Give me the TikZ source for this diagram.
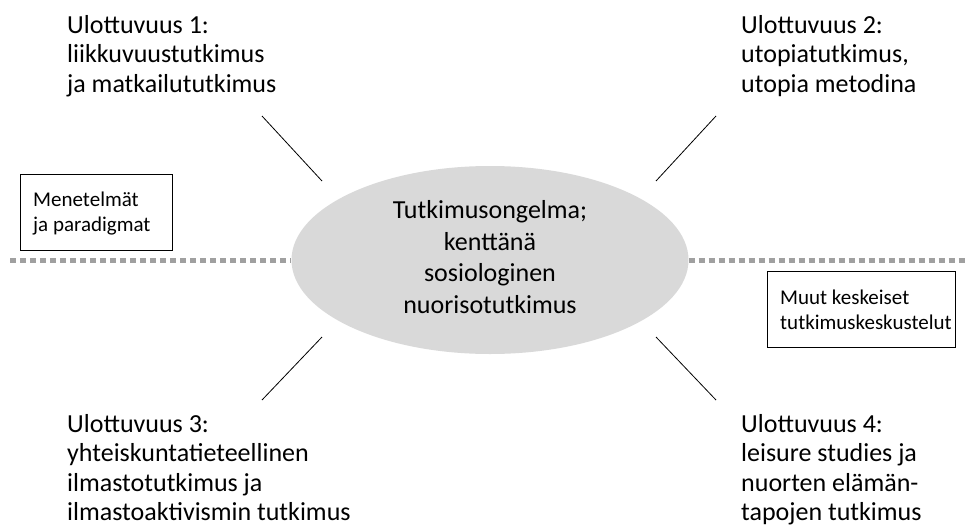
\documentclass[tikz,border=0pt]{standalone}
\usepackage{fontspec}
\setmainfont{Carlito}
\usetikzlibrary{shapes.geometric}
\definecolor{ellfill}{RGB}{217,217,217}
\definecolor{dotgray}{RGB}{160,160,160}
\tikzset{
  lbl/.style={anchor=base west, align=left, inner sep=0pt, font=\fontsize{26}{29.5}\selectfont},
  conn/.style={line width=0.8pt, black},
  sidebox/.style={draw, line width=0.8pt, anchor=north west, inner sep=0pt},
  boxtxt/.style={anchor=base west, align=left, inner sep=0pt, font=\fontsize{21}{25}\selectfont},
  sep/.style={draw=dotgray, line width=5pt, dash pattern=on 6pt off 4pt}
}
\begin{document}
\begin{tikzpicture}[x=1pt,y=-1pt]
\useasboundingbox (0,0) rectangle (965,530);
\node[ellipse, fill=ellfill, minimum width=397pt, minimum height=188pt, inner sep=0pt] (c) at (490,260) {};
\node[align=center, inner sep=0pt, anchor=base, font=\fontsize{26}{31.5}\selectfont] (ct) at (490,313) {Tutkimusongelma;\\kenttänä\\sosiologinen\\nuorisotutkimus};
\node[lbl] (u1) at (67,92) {Ulottuvuus 1:\\liikkuvuustutkimus\\ja matkailututkimus};
\node[lbl] (u2) at (741,92) {Ulottuvuus 2:\\utopiatutkimus,\\utopia metodina};
\node[lbl] (u3) at (67,520.5) {Ulottuvuus 3:\\yhteiskuntatieteellinen\\ilmastotutkimus ja\\ilmastoaktivismin tutkimus};
\node[lbl] (u4) at (741,520.5) {Ulottuvuus 4:\\leisure studies ja\\nuorten elämän-\\tapojen tutkimus};
\node[sidebox, minimum width=152pt, minimum height=76pt] (b1) at (20,174) {};
\node[boxtxt] (b1t) at (33,231) {Menetelmät\\ja paradigmat};
\node[sidebox, minimum width=188pt, minimum height=76pt] (b2) at (767,271) {};
\node[boxtxt] (b2t) at (780,329) {Muut keskeiset\\tutkimuskeskustelut};
\coordinate (l1a) at (262,116); \coordinate (l1b) at (322,181);
\coordinate (l2a) at (716,116); \coordinate (l2b) at (656,181);
\coordinate (l3a) at (262,400); \coordinate (l3b) at (322,337);
\coordinate (l4a) at (716,400); \coordinate (l4b) at (656,337);
\draw[conn] (l1a) -- (l1b);
\draw[conn] (l2a) -- (l2b);
\draw[conn] (l3a) -- (l3b);
\draw[conn] (l4a) -- (l4b);
\coordinate (dl) at (10,260); \coordinate (dr) at (965,260);
\draw[sep] (dl) -- (c.west);
\draw[sep] (c.east) -- (dr);
\end{tikzpicture}
\end{document}
